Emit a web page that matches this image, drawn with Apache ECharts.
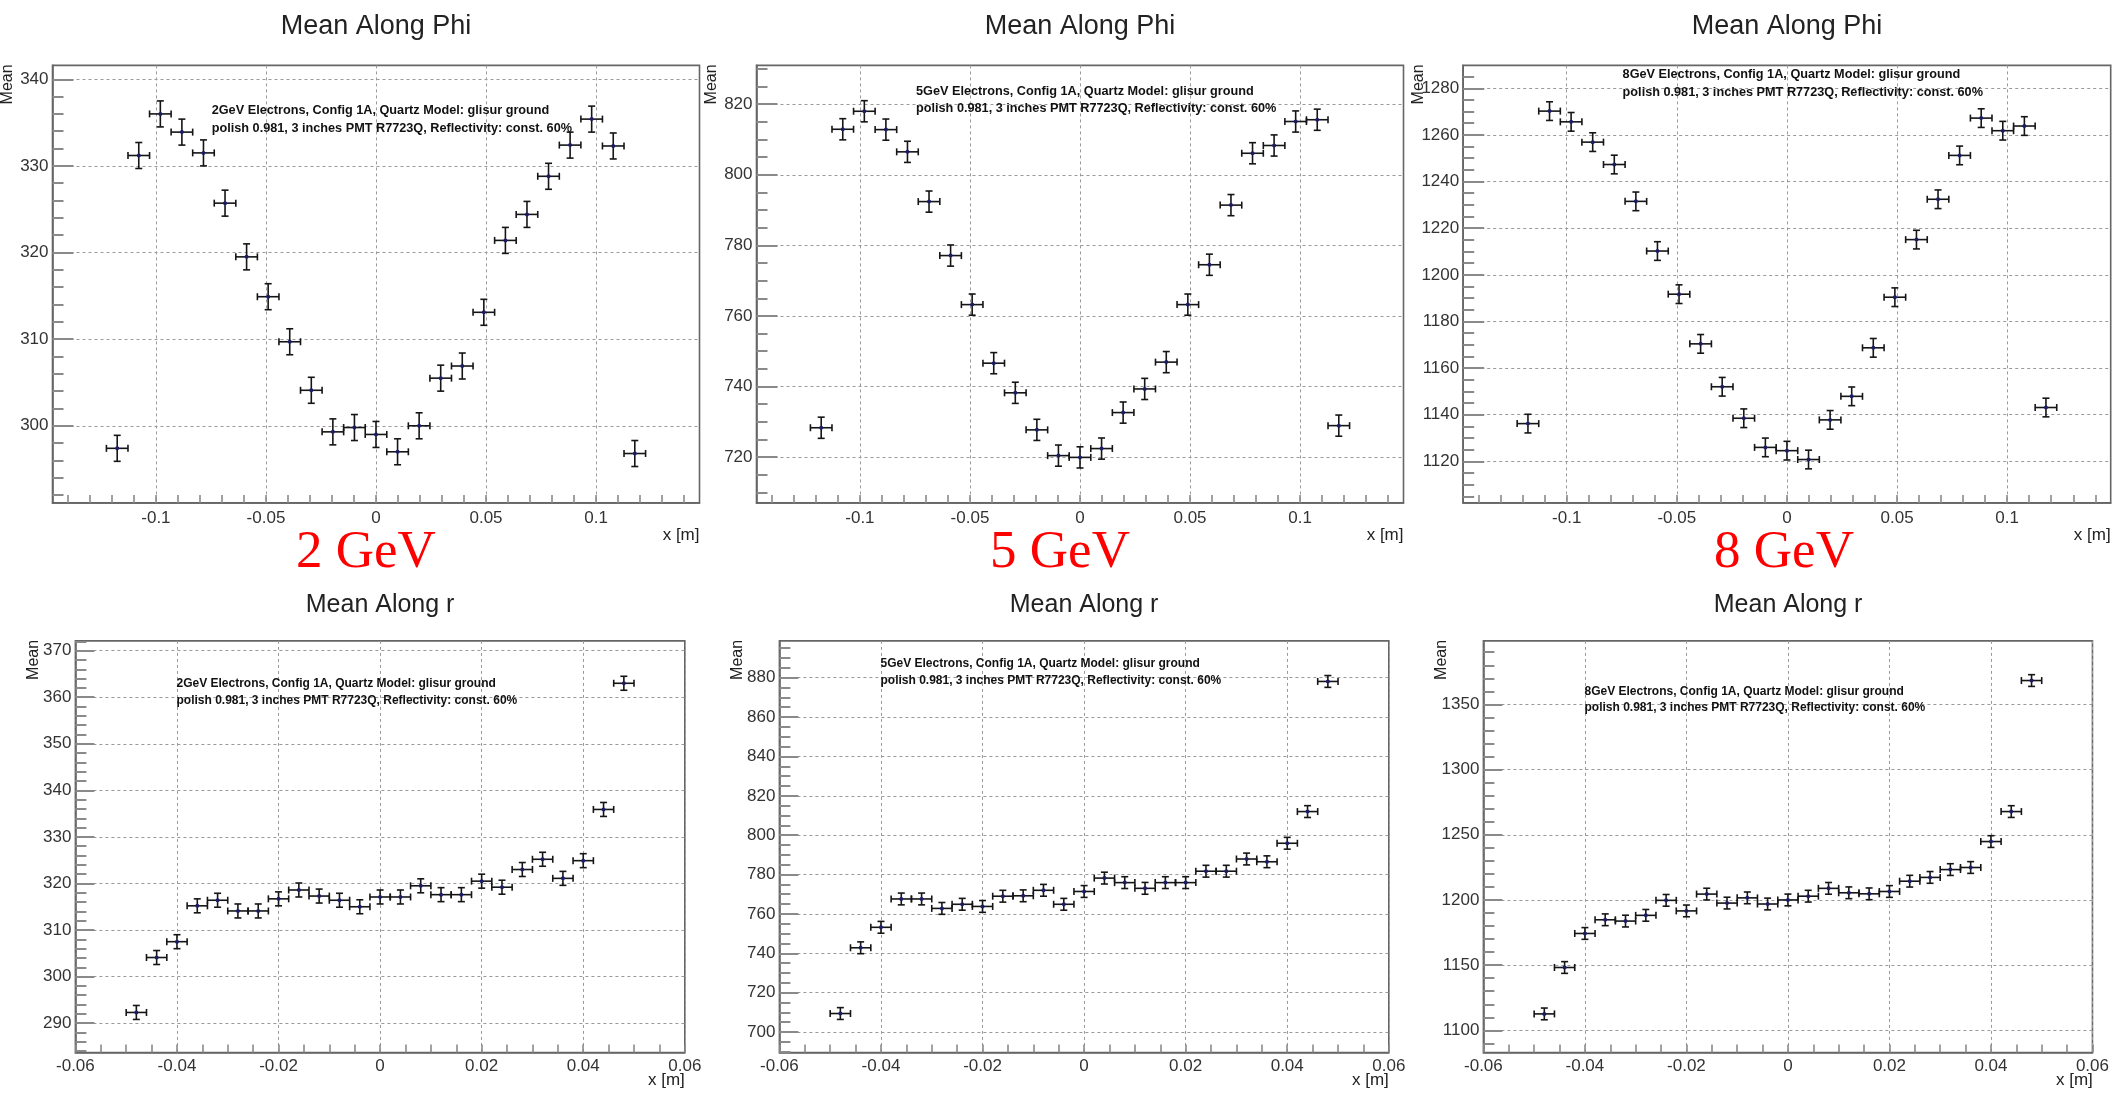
<!DOCTYPE html>
<html><head><meta charset="utf-8">
<script src="https://cdn.jsdelivr.net/npm/echarts@6/dist/echarts.min.js"></script>
<style>html,body{margin:0;padding:0;background:#fff}#c{width:2112px;height:1095px}</style>
</head><body><div id="c"></div>
<script>
// ---------------- data ----------------
const phiX = [-0.1176, -0.1078, -0.098, -0.0882, -0.0784, -0.0686, -0.0588, -0.049, -0.0392, -0.0294, -0.0196, -0.0098, 0,
              0.0098, 0.0196, 0.0294, 0.0392, 0.049, 0.0588, 0.0686, 0.0784, 0.0882, 0.098, 0.1078, 0.1176];
const phiXErr = 0.0049;
const meanPhi2GeV = [297.4, 331.2, 336.0, 333.9, 331.5, 325.7, 319.5, 314.9, 309.7, 304.1, 299.3, 299.8, 299.0,
                     297.0, 300.0, 305.5, 306.9, 313.1, 321.4, 324.4, 328.8, 332.4, 335.4, 332.3, 296.8];
const meanPhi5GeV = [728.3, 812.9, 818.0, 812.8, 806.5, 792.4, 777.1, 763.2, 746.6, 738.2, 727.7, 720.4, 719.9,
                     722.4, 732.6, 739.3, 746.9, 763.2, 774.5, 791.4, 806.1, 808.3, 815.1, 815.6, 728.9];
const meanPhi8GeV = [1136.2, 1270.2, 1265.6, 1256.9, 1247.3, 1231.5, 1210.2, 1191.7, 1170.4, 1152.0, 1138.5, 1126.0, 1124.6,
                     1120.8, 1137.8, 1147.9, 1168.7, 1190.4, 1215.1, 1232.4, 1251.2, 1267.2, 1261.8, 1263.8, 1143.1];
const errPhi = [1.5, 3.0, 4.0];

const rX = [-0.048, -0.044, -0.04, -0.036, -0.032, -0.028, -0.024, -0.02, -0.016, -0.012, -0.008, -0.004, 0,
            0.004, 0.008, 0.012, 0.016, 0.02, 0.024, 0.028, 0.032, 0.036, 0.04, 0.044, 0.048];
const rXErr = 0.002;
const meanR2GeV = [292.3, 304.1, 307.5, 315.2, 316.4, 314.1, 314.1, 316.7, 318.6, 317.3, 316.4, 315.0, 317.1,
                   317.1, 319.5, 317.6, 317.6, 320.5, 319.2, 323.0, 325.2, 321.1, 324.9, 335.9, 363.0];
const meanR5GeV = [709.4, 742.8, 753.2, 767.6, 767.6, 762.8, 764.9, 763.8, 769.0, 769.2, 772.0, 764.9, 771.4,
                   778.2, 775.9, 773.0, 775.9, 775.9, 781.7, 781.7, 787.9, 786.5, 795.9, 812.0, 878.1];
const meanR8GeV = [1112.6, 1148.2, 1174.3, 1184.8, 1183.8, 1188.2, 1199.7, 1191.6, 1204.5, 1197.6, 1201.6, 1196.9, 1200.0,
                   1202.9, 1208.9, 1205.5, 1204.7, 1206.5, 1214.4, 1217.3, 1223.3, 1224.9, 1244.8, 1267.8, 1368.3];
const errR = [1.5, 3.0, 4.5];

// tick labels
const phiXTicks = [-0.1, -0.05, 0, 0.05, 0.1];
const rXTicks = [-0.06, -0.04, -0.02, 0, 0.02, 0.04, 0.06];
const phi2Ticks = [300, 310, 320, 330, 340];
const phi5Ticks = [720, 740, 760, 780, 800, 820];
const phi8Ticks = [1120, 1140, 1160, 1180, 1200, 1220, 1240, 1260, 1280];
const r2Ticks = [290, 300, 310, 320, 330, 340, 350, 360, 370];
const r5Ticks = [700, 720, 740, 760, 780, 800, 820, 840, 860, 880];
const r8Ticks = [1100, 1150, 1200, 1250, 1300, 1350];

const energies = ['2GeV', '5GeV', '8GeV'];
const energyLabels = ['2 GeV', '5 GeV', '8 GeV'];
const titlePhi = 'Mean Along Phi';
const titleR = 'Mean Along r';
const noteLine2 = 'polish 0.981, 3 inches PMT R7723Q, Reflectivity: const. 60%';

// ---------------- layout ----------------
const FONT = "'Liberation Sans', Arial, Helvetica, sans-serif";
const panels = [
  {left: 52.5,  top: 65.4,  width: 647,   height: 437.5, xr: [-0.147, 0.147], yr: [291.1, 341.6], xt: phiXTicks, yt: phi2Ticks, xi: 0.05, yi: 10, xm: 5, ym: 5, xs: phiX, ys: meanPhi2GeV, ex: phiXErr, ey: errPhi[0]},
  {left: 756.5, top: 65.4,  width: 647,   height: 437.5, xr: [-0.147, 0.147], yr: [707, 831],     xt: phiXTicks, yt: phi5Ticks, xi: 0.05, yi: 20, xm: 5, ym: 4, xs: phiX, ys: meanPhi5GeV, ex: phiXErr, ey: errPhi[1]},
  {left: 1463.2,top: 65.4,  width: 647.5, height: 437.5, xr: [-0.147, 0.147], yr: [1102.2, 1289.8], xt: phiXTicks, yt: phi8Ticks, xi: 0.05, yi: 20, xm: 5, ym: 4, xs: phiX, ys: meanPhi8GeV, ex: phiXErr, ey: errPhi[2]},
  {left: 75.4,  top: 640.9, width: 609.4, height: 411.6, xr: [-0.06, 0.06],   yr: [283.7, 372.1], xt: rXTicks, yt: r2Ticks, xi: 0.02, yi: 10, xm: 4, ym: 5, xs: rX, ys: meanR2GeV, ex: rXErr, ey: errR[0]},
  {left: 779.4, top: 640.9, width: 609.4, height: 411.6, xr: [-0.06, 0.06],   yr: [689.6, 898.7], xt: rXTicks, yt: r5Ticks, xi: 0.02, yi: 20, xm: 4, ym: 4, xs: rX, ys: meanR5GeV, ex: rXErr, ey: errR[1]},
  {left: 1483.4,top: 640.9, width: 609.4, height: 411.6, xr: [-0.06, 0.06],   yr: [1083, 1398.7], xt: rXTicks, yt: r8Ticks, xi: 0.02, yi: 50, xm: 4, ym: 5, xs: rX, ys: meanR8GeV, ex: rXErr, ey: errR[2]}
];

const grids = [], xAxes = [], yAxes = [], series = [], graphic = [];
const tickStyle = {color: '#8a8a8a', width: 1.6};
const plain = v => String(v);

panels.forEach((p, i) => {
  const top = i < 3;
  grids.push({left: p.left, top: p.top, width: p.width, height: p.height, show: true,
              borderColor: '#666', borderWidth: 1.6, backgroundColor: 'transparent', containLabel: false});
  xAxes.push({
    type: 'value', gridIndex: i, min: p.xr[0], max: p.xr[1],
    splitNumber: Math.round((p.xr[1] - p.xr[0]) / p.xi), minInterval: p.xi, maxInterval: p.xi,
    axisLine: {show: true, onZero: false, lineStyle: {color: '#666', width: 1.6}},
    axisTick: {show: true, inside: true, length: 8, customValues: p.xt, lineStyle: tickStyle},
    minorTick: {show: true, splitNumber: p.xm, length: 8, lineStyle: tickStyle},
    axisLabel: {customValues: p.xt, formatter: plain, fontSize: 17, color: '#333', fontFamily: FONT, margin: top ? 7 : 5,
                showMinLabel: true, showMaxLabel: true, hideOverlap: false},
    splitLine: {show: true, lineStyle: {color: '#9a9a9a', width: 1, type: [3, 3]}},
    minorSplitLine: {show: false}
  });
  yAxes.push({
    type: 'value', gridIndex: i, min: p.yr[0], max: p.yr[1],
    splitNumber: Math.round((p.yr[1] - p.yr[0]) / p.yi), minInterval: p.yi, maxInterval: p.yi,
    axisLine: {show: true, onZero: false, lineStyle: {color: '#666', width: 1.6}},
    axisTick: {show: true, inside: true, length: top ? 21 : 19, customValues: p.yt, lineStyle: {color: '#8a8a8a', width: 2}},
    minorTick: {show: true, splitNumber: p.ym, length: 11, lineStyle: {color: '#8a8a8a', width: 2}},
    axisLabel: {customValues: p.yt, formatter: plain, fontSize: 17, color: '#333', fontFamily: FONT, margin: 4,
                showMinLabel: true, showMaxLabel: true, hideOverlap: false},
    splitLine: {show: true, lineStyle: {color: '#9a9a9a', width: 1, type: [3, 3]}}
  });
  series.push({
    type: 'custom', xAxisIndex: i, yAxisIndex: i, z: 10, silent: true,
    data: p.xs.map((x, k) => [x, p.ys[k], p.ex, p.ey]),
    encode: {x: 0, y: 1},
    renderItem(params, api) {
      const x = api.value(0), y = api.value(1), dx = api.value(2), dy = api.value(3);
      const c = api.coord([x, y]);
      const l = api.coord([x - dx, y]), r = api.coord([x + dx, y]);
      const t = api.coord([x, y + dy]), b = api.coord([x, y - dy]);
      const cap = 3.5;
      const st = {stroke: '#151515', lineWidth: 1.6};
      return {type: 'group', children: [
        {type: 'line', shape: {x1: l[0], y1: l[1], x2: r[0], y2: r[1]}, style: st},
        {type: 'line', shape: {x1: t[0], y1: t[1], x2: b[0], y2: b[1]}, style: st},
        {type: 'line', shape: {x1: t[0] - cap, y1: t[1], x2: t[0] + cap, y2: t[1]}, style: st},
        {type: 'line', shape: {x1: b[0] - cap, y1: b[1], x2: b[0] + cap, y2: b[1]}, style: st},
        {type: 'line', shape: {x1: l[0], y1: l[1] - cap, x2: l[0], y2: l[1] + cap}, style: st},
        {type: 'line', shape: {x1: r[0], y1: r[1] - cap, x2: r[0], y2: r[1] + cap}, style: st},
        {type: 'circle', shape: {cx: c[0], cy: c[1], r: 2}, style: {fill: '#1c1c66'}}
      ]};
    }
  });

  const right = p.left + p.width;
  const cx = p.left + p.width / 2;
  graphic.push({type: 'text', x: cx, y: top ? 27 : 605, silent: true,
    style: {text: top ? titlePhi : titleR, fill: '#222', fontSize: top ? 27 : 25, fontFamily: FONT, align: 'center', verticalAlign: 'middle'}});
  const mx = top ? [8, 712, 1419][i] : [33.5, 737.5, 1441.5][i - 3];
  graphic.push({type: 'text', x: mx, y: p.top - 1, rotation: Math.PI / 2, silent: true,
    style: {text: 'Mean', fill: '#222', fontSize: 16, fontFamily: FONT, align: 'right', verticalAlign: 'middle'}});
  graphic.push({type: 'text', x: right, y: top ? 535 : 1080, silent: true,
    style: {text: 'x [m]', fill: '#222', fontSize: 17, fontFamily: FONT, align: 'right', verticalAlign: 'middle'}});
});

const notes = [
  {x: 211.7,  y: [110, 128.3],  fs: 12.7, e: 0},
  {x: 916,    y: [91, 108.5],   fs: 12.7, e: 1},
  {x: 1622.6, y: [74.3, 92.1],  fs: 12.7, e: 2},
  {x: 176.5,  y: [684, 700.2],  fs: 12.0, e: 0},
  {x: 880.5,  y: [664.1, 680.5],fs: 12.0, e: 1},
  {x: 1584.5, y: [691.4, 707.8],fs: 12.0, e: 2}
];
notes.forEach(n => {
  const lines = [energies[n.e] + ' Electrons, Config 1A, Quartz Model: glisur ground', noteLine2];
  lines.forEach((t, k) => graphic.push({type: 'text', x: n.x, y: n.y[k], silent: true, z: 20,
    style: {text: t, fill: '#111', fontSize: n.fs, fontWeight: 'bold', fontFamily: FONT, align: 'left', verticalAlign: 'middle'}}));
});

[365.8, 1060, 1784].forEach((x, k) => graphic.push({type: 'text', x: x, y: 553, silent: true,
  style: {text: energyLabels[k], fill: '#ff0000', fontSize: 53, fontFamily: "'Liberation Serif', 'Times New Roman', serif", align: 'center', verticalAlign: 'middle'}}));

const chart = echarts.init(document.getElementById('c'), null, {renderer: 'canvas'});
chart.setOption({
  animation: false,
  backgroundColor: '#ffffff',
  grid: grids, xAxis: xAxes, yAxis: yAxes, series: series, graphic: graphic
});
</script></body></html>
